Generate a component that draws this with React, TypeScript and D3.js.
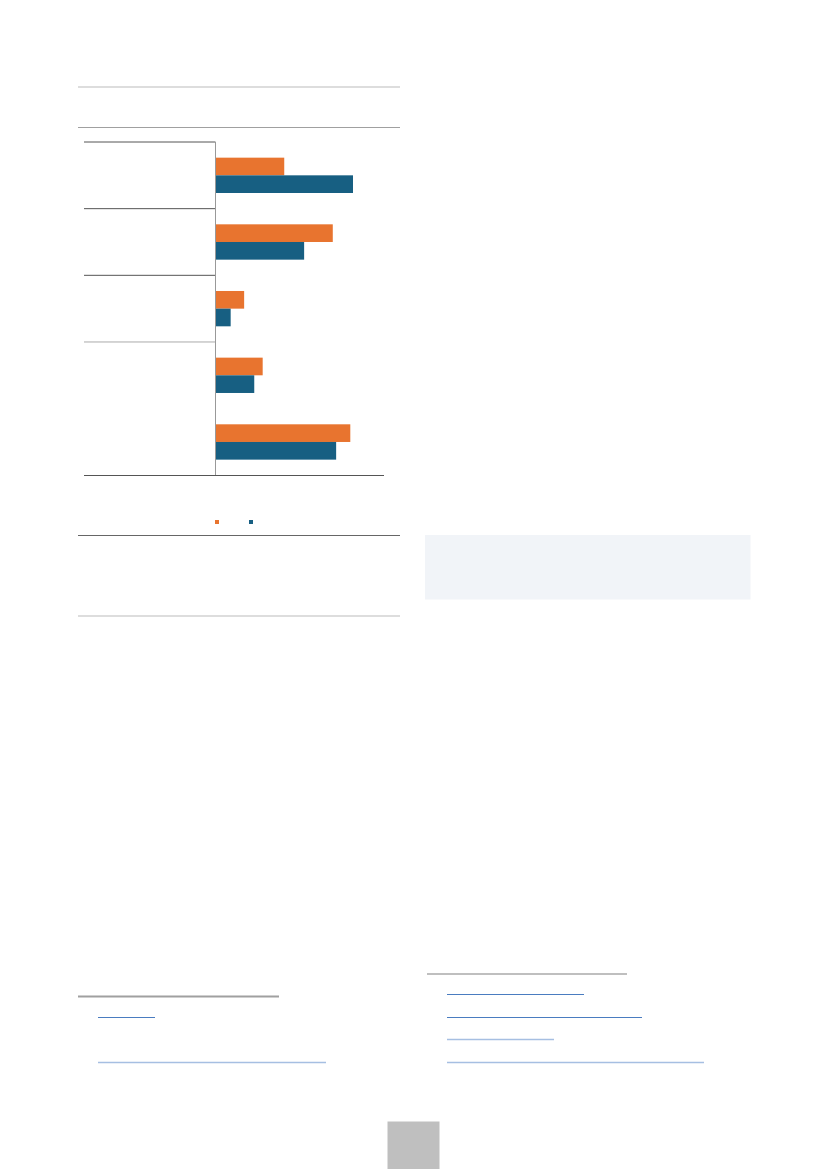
import React from "react";
import * as d3 from "d3";

const categories = ["A", "B", "C", "D", "E"];
const seriesNames = ["Series 1", "Series 2"];
const series1 = [20.4, 34.8, 8.5, 14.0, 40.0];
const series2 = [40.8, 26.3, 4.5, 11.5, 35.8];
const colors = ["#e8742f", "#175f82"];
const xMax = 50;

const W = 827;
const H = 1169;

export default function App() {
  const x = d3.scaleLinear().domain([0, xMax]).range([215.5, 384]);
  const y = d3.scaleBand<string>().domain(categories).range([142, 475.3]).paddingInner(0.47).paddingOuter(0.235);
  const sub = d3.scaleBand<number>().domain([0, 1]).range([0, y.bandwidth()]);
  const step = y.step();
  const sepIdx = [0, 1, 2, 3];

  return (
    <svg width={W} height={H} style={{ position: "absolute", left: 0, top: 0, background: "#fff" }}>
      {/* header rules */}
      <line x1={78} x2={400} y1={87} y2={87} stroke="#dddddd" strokeWidth={2} />
      <line x1={78} x2={400} y1={127.5} y2={127.5} stroke="#a0a0a0" strokeWidth={1} />

      {/* category separators */}
      {sepIdx.map((i) => (
        <line key={i} x1={84} x2={215.5} y1={142 + i * step} y2={142 + i * step} stroke={i === 3 ? "#aaaaaa" : "#555555"} strokeWidth={1} />
      ))}
      {/* bars */}
      {categories.map((c, i) => (
        <g key={c}>
          <rect x={x(0)} y={(y(c) as number) + (sub(0) as number)} width={x(series1[i]) - x(0)} height={sub.bandwidth()} fill={colors[0]} />
          <rect x={x(0)} y={(y(c) as number) + (sub(1) as number)} width={x(series2[i]) - x(0)} height={sub.bandwidth()} fill={colors[1]} />
        </g>
      ))}
      {/* axes */}
      <line x1={215.5} x2={215.5} y1={142} y2={475.5} stroke="#999999" strokeWidth={1} />
      <line x1={84} x2={384} y1={475.5} y2={475.5} stroke="#555555" strokeWidth={1} />

      {/* legend */}
      {seriesNames.map((s, i) => (
        <rect key={s} x={215 + i * 34} y={520} width={4} height={4} fill={colors[i]} />
      ))}

      <line x1={78} x2={400} y1={535.5} y2={535.5} stroke="#666666" strokeWidth={1} />
      <line x1={78} x2={400} y1={616} y2={616} stroke="#dddddd" strokeWidth={2} />

      {/* right box */}
      <rect x={425} y={535} width={325.5} height={64.5} fill="#f1f4f8" />

      {/* footnote rules */}
      <line x1={78} x2={279} y1={996.5} y2={996.5} stroke="#a0a0a0" strokeWidth={2} />
      <line x1={98} x2={155} y1={1017.5} y2={1017.5} stroke="#4a7cc0" strokeWidth={1} />
      <line x1={98} x2={326} y1={1062.5} y2={1062.5} stroke="#a6bfe2" strokeWidth={1.5} />

      <line x1={427} x2={627} y1={974} y2={974} stroke="#aaaaaa" strokeWidth={1.5} />
      <line x1={447} x2={584} y1={994.5} y2={994.5} stroke="#4a7cc0" strokeWidth={1} />
      <line x1={447} x2={642} y1={1017.5} y2={1017.5} stroke="#4a7cc0" strokeWidth={1} />
      <line x1={447} x2={554} y1={1039.5} y2={1039.5} stroke="#a6bfe2" strokeWidth={1.5} />
      <line x1={447} x2={704} y1={1062.5} y2={1062.5} stroke="#a6bfe2" strokeWidth={1.5} />

      {/* page number box */}
      <rect x={387.5} y={1121.5} width={52} height={48} fill="#bfbfbf" />
    </svg>
  );
}
